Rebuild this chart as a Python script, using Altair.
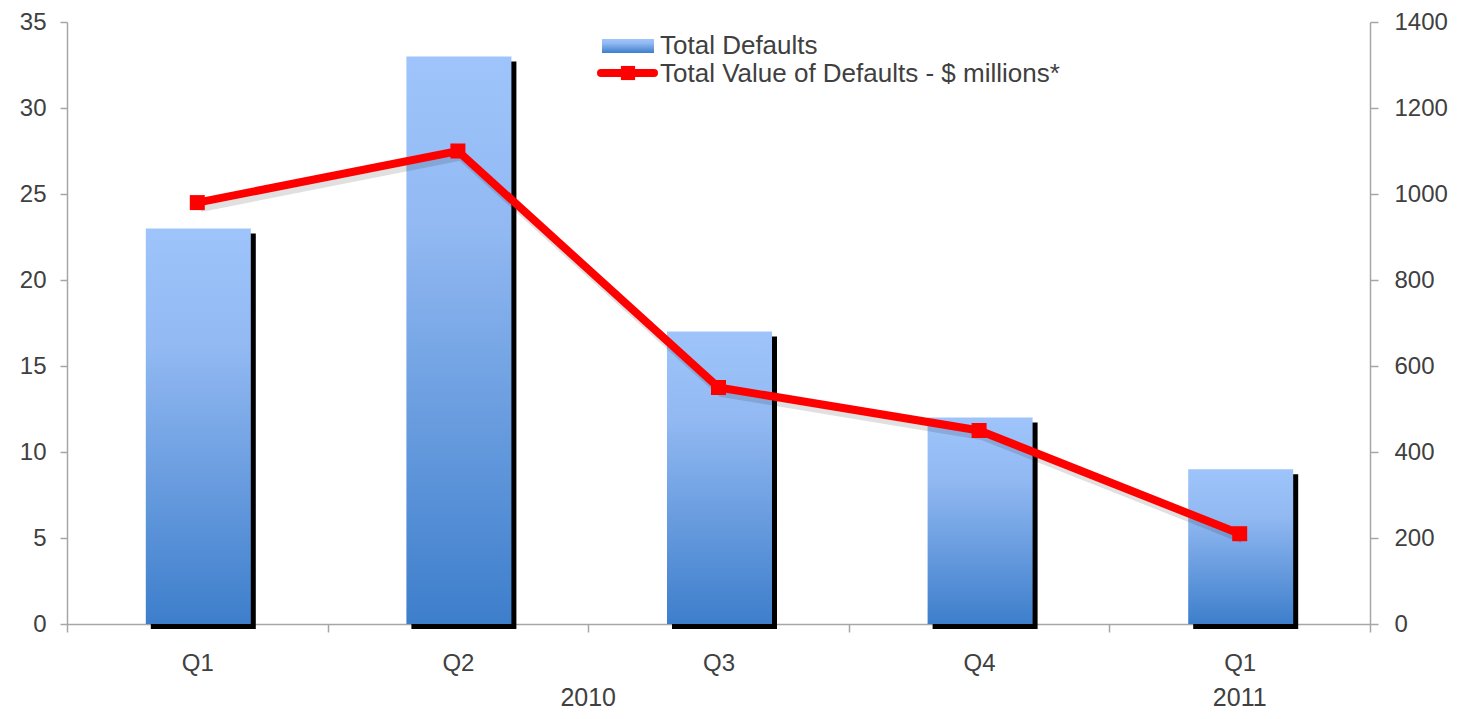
import altair as alt
import pandas as pd

# ---- data ----
quarters = ["Q1", "Q2", "Q3", "Q4", "Q1"]
years = ["2010", "2010", "2010", "2010", "2011"]
total_defaults = [23, 33, 17, 12, 9]
value_defaults = [980, 1100, 550, 450, 210]
series_names = ["Total Defaults", "Total Value of Defaults - $ millions*"]
year_labels = ["2010", "2011"]
left_ticks = [0, 5, 10, 15, 20, 25, 30, 35]
right_ticks = [0, 200, 400, 600, 800, 1000, 1200, 1400]

keys = [f"{y} {q}" for y, q in zip(years, quarters)]
df = pd.DataFrame({"key": keys, "quarter": quarters, "year": years,
                   "defaults": total_defaults, "value": value_defaults})

W, H = 1303, 602
STEP = W / len(keys)
FONT = "Liberation Sans"
GRAY = "#A6A6A6"
TXT = "#404040"
RED = "#FF0000"
BAR_W = 105

grad = alt.Gradient(
    gradient="linear",
    stops=[alt.GradientStop(color="#9EC4FB", offset=0),
           alt.GradientStop(color="#92B9F2", offset=0.3),
           alt.GradientStop(color="#3D7ECB", offset=1)],
    x1=0, x2=0, y1=0, y2=1,
)

x_enc = alt.X("key:N", sort=keys, scale=alt.Scale(paddingInner=0, paddingOuter=0),
              axis=alt.Axis(title=None, labelAngle=0, labelExpr="split(datum.label, ' ')[1]",
                            tickBand="extent", tickSize=8, tickColor=GRAY, tickWidth=1.5,
                            domainColor=GRAY, domainWidth=1.5,
                            labelFont=FONT, labelFontSize=24, labelColor=TXT, labelPadding=19))

base = alt.Chart(df)

y_left = alt.Y("defaults:Q", scale=alt.Scale(domain=[0, 35], nice=False),
               axis=alt.Axis(orient="left", title=None, values=left_ticks, grid=False,
                             tickSize=7, tickColor=GRAY, tickWidth=1.5,
                             domainColor=GRAY, domainWidth=1.5,
                             labelFont=FONT, labelFontSize=24, labelColor=TXT, labelPadding=14))

shadow = base.mark_bar(size=BAR_W, color="black", xOffset=6, yOffset=5, y2Offset=3).encode(
    x=x_enc, y=y_left)
bars = base.mark_bar(size=BAR_W, color=grad, xOffset=1).encode(x=x_enc, y=y_left)
left = alt.layer(shadow, bars)

y_right = alt.Y("value:Q", scale=alt.Scale(domain=[0, 1400], nice=False),
                axis=alt.Axis(orient="right", title=None, values=right_ticks, grid=False,
                              format="d",
                              tickSize=8, tickColor=GRAY, tickWidth=1.5,
                              domainColor=GRAY, domainWidth=1.5,
                              labelFont=FONT, labelFontSize=24, labelColor=TXT, labelPadding=16))

line_shadow = base.mark_line(color="#000000", strokeWidth=9, opacity=0.12, xOffset=3, yOffset=5).encode(
    x=x_enc, y=y_right)
line = base.mark_line(color=RED, strokeWidth=8).encode(x=x_enc, y=y_right)
pts = base.mark_point(shape="square", size=225, filled=True, color=RED, opacity=1).encode(
    x=x_enc, y=y_right)
right = alt.layer(line_shadow, line, pts)

# ---- year labels ----
yr_df = pd.DataFrame({"year": year_labels, "px": [2 * STEP, 4.5 * STEP]})
yr_text = alt.Chart(yr_df).mark_text(font=FONT, fontSize=25, color=TXT, baseline="middle",
                                     align="center").encode(
    x=alt.X("px:Q", scale=None), y=alt.value(H + 74), text="year:N")

# ---- legend ----
one = pd.DataFrame({"a": [0]})
leg_rect = alt.Chart(one).mark_rect(color=grad).encode(
    x=alt.value(535), x2=alt.value(587), y=alt.value(17), y2=alt.value(31))
leg_rule = alt.Chart(one).mark_rule(color=RED, strokeWidth=8, strokeCap="round").encode(
    x=alt.value(534), x2=alt.value(587), y=alt.value(51))
leg_pt = alt.Chart(one).mark_point(shape="square", size=200, filled=True, color=RED, opacity=1).encode(
    x=alt.value(561), y=alt.value(51))
leg_df = pd.DataFrame({"name": series_names, "py": [24, 52]})
leg_text = alt.Chart(leg_df).mark_text(font=FONT, fontSize=26, color=TXT, align="left",
                                       baseline="middle").encode(
    x=alt.value(593), y=alt.Y("py:Q", scale=None), text="name:N")

chart = alt.layer(left, right, yr_text, leg_rect, leg_rule, leg_pt, leg_text).resolve_scale(
    y="independent", x="shared"
).properties(
    width=W, height=H,
    autosize=alt.AutoSizeParams(type="none"),
    padding={"left": 59, "top": 14, "right": 92, "bottom": 87},
).configure_view(stroke=None)

chart.save("out.html", embed_options={"renderer": "svg", "actions": False})
